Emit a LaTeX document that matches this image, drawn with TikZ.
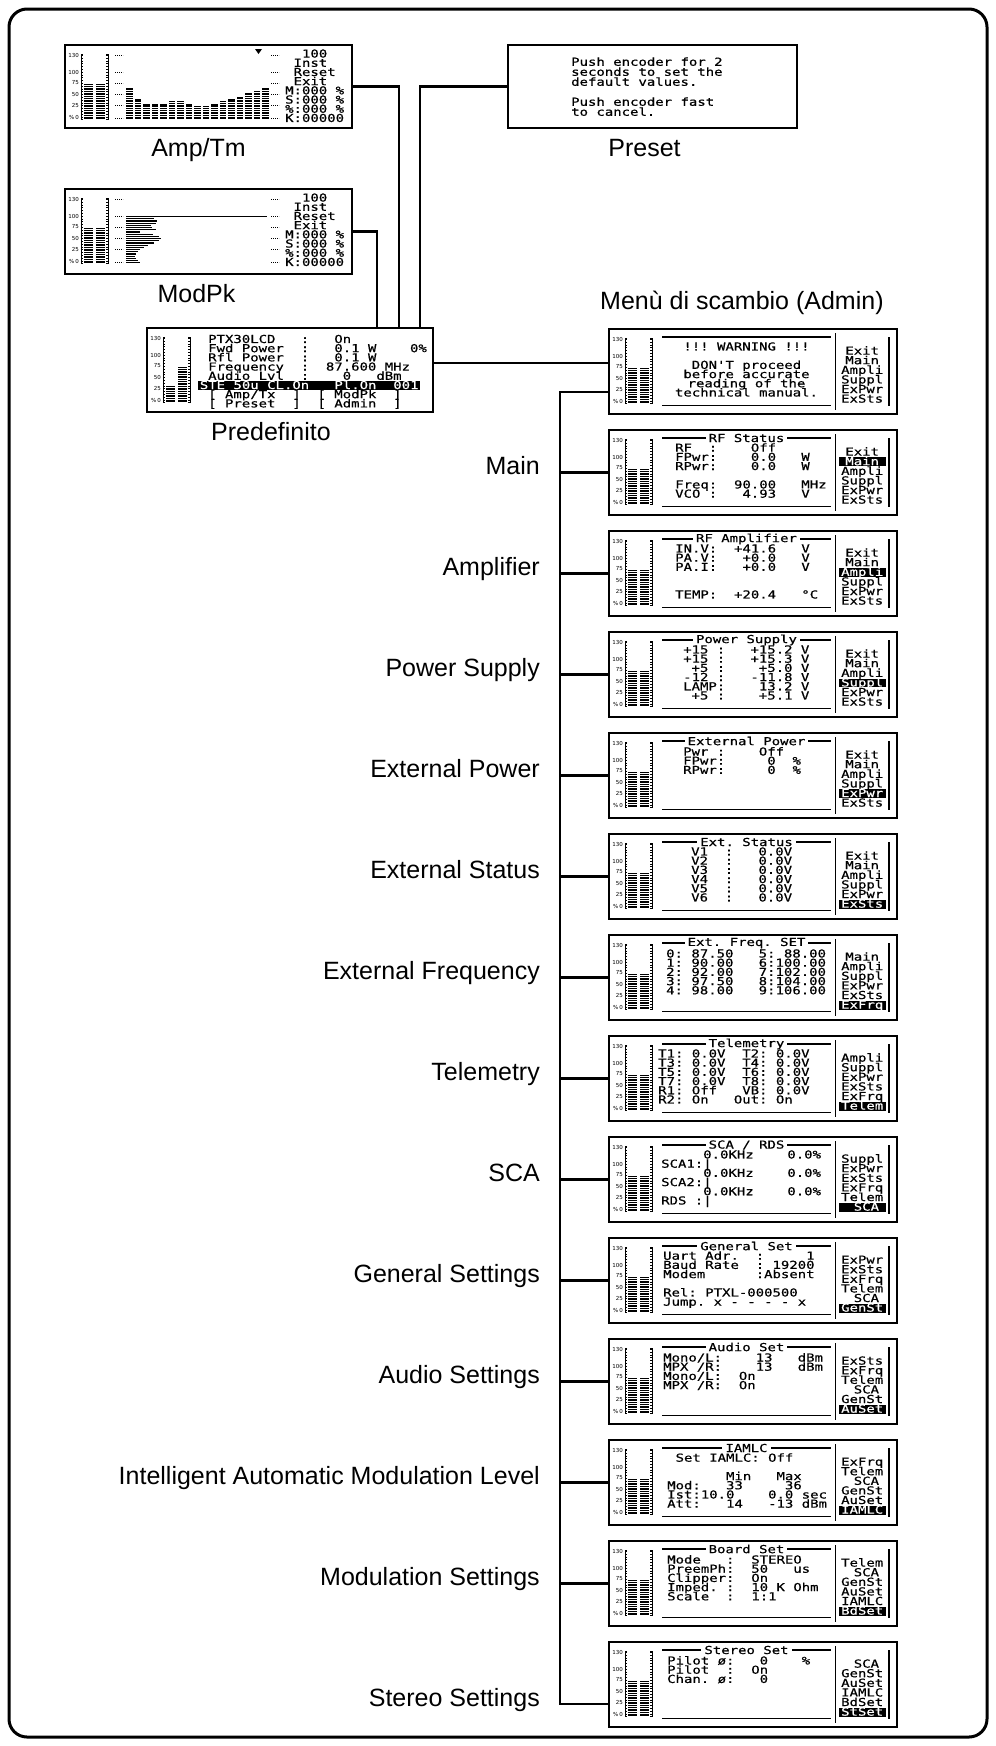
\documentclass[tikz,border=0pt]{standalone}
\usepackage{fontspec}
\setmainfont{Liberation Sans}
\newfontfamily\lcdfont{DejaVu Sans Mono}[FakeStretch=1.27,FakeBold=0.6,Ligatures=TeXOff]
\newfontfamily\meterfont{DejaVu Sans}
\usetikzlibrary{positioning, calc}
\newcommand\lcdsize{\lcdfont\fontsize{11}{9.2}\selectfont\lineskiplimit=-20pt\relax}
\newcommand\presetsize{\lcdfont\fontsize{11}{10}\selectfont\lineskiplimit=-20pt\relax}
\tikzset{
  screen/.style={draw, line width=2.6pt, inner sep=0pt, outer sep=0pt,
                 minimum width=288pt, minimum height=85pt, anchor=north west},
  caption/.style={font=\fontsize{25}{29}\selectfont, inner sep=0pt},
  link/.style={line width=2.2pt},
  lcd/.style={font=\lcdsize, inner sep=0pt, align=left, anchor=north west,
              execute at begin node={\rule{0pt}{8.4pt}}},
  menuitem/.style={font=\lcdsize, inner xsep=0pt, inner ysep=0.2pt, text height=7.6pt,
                   text depth=0.8pt, minimum width=47pt, anchor=base west},
  menuhi/.style={menuitem, fill=black, text=white},
  ttl/.style={font=\lcdsize, fill=white, inner xsep=3pt, inner ysep=0pt},
  lcdrule/.style={line width=1.2pt},
  menusep/.style={line width=1.8pt},
  meterbar/.style={line width=9pt, dash pattern=on 1.3pt off 1.1pt},
  gridmark/.style={line width=0.8pt, dash pattern=on 0.8pt off 1.2pt},
  scl/.style={font=\meterfont\fontsize{5.5}{5.5}\selectfont, inner sep=0pt, anchor=east}
}
% bar meter on the left of every screen
\newcommand\lcdmeter[3]{%
  \begin{scope}[shift={(#1.north west)}]
    \foreach \lv/\yy in {130/10,100/27,75/38,50/49,25/60}
      \node[scl] at (14,\yy) {\lv};
    \node[scl] at (14,72) {\%\,0};
    \draw[line width=1pt] (18,9)--(16,9)--(16,74)--(18,74)
                          (41,9)--(43,9)--(43,74)--(41,74);
    \draw[line width=1.4pt, dash pattern=on 0.6pt off 2.2pt] (17,10)--(17,73) (42,10)--(42,73);
    \draw[meterbar] (23,73.5)--(23,#2) (35.5,73.5)--(35.5,#3);
  \end{scope}}
% admin screen: name, top, title, body x, body, menu, highlighted item
\newcommand\adminscreen[7]{%
  \node[screen] (#1) at (609,#2) {};
  \lcdmeter{#1}{38}{38}
  \begin{scope}[shift={(#1.north west)}]
    \draw[lcdrule] (53,8)--(222,8) (53,76.5)--(222,76.5);
    \draw[menusep] (226.5,4)--(226.5,81) (280,8)--(280,77);
    \ifx\relax#3\relax\else\node[ttl] at (137.5,8) {#3};\fi
    \node[lcd] at (#4,13.1) {#5};
    \foreach \m [count=\i] in {#6}{
      \ifnum\i=#7 \node[menuhi] at (229.5,16+9.6*\i) {\m};
      \else \node[menuitem] at (229.5,16+9.6*\i) {\m};\fi}
  \end{scope}}

\begin{document}
\begin{tikzpicture}[x=1pt, y=-1pt]
  \useasboundingbox (0,0) rectangle (996,1746);
  \draw[line width=3pt, rounded corners=18pt] (9,9) rectangle (987,1737);

  % Amp/Tm
  \node[screen, minimum width=287pt, minimum height=83pt] (amp) at (65,45) {};
  \lcdmeter{amp}{38}{38}
  \begin{scope}[shift={(amp.north west)}]
    \foreach \yy in {10,27,38,49,60,73} \draw[gridmark] (50,\yy)--(58,\yy) (206,\yy)--(214,\yy);
    \foreach \h [count=\i] in {31,20,15,15,15,18,18,15,13,13,15,18,20,22,26,28,31}
      \draw[meterbar, line width=6.5pt] ({56+8.5*\i},73.5)--++(0,-\h);
    \fill (190,4)--(197,4)--(193.5,9)--cycle;
    \node[lcd] at (220,4.2) {~~100\\~Inst\\~Reset\\~Exit\\M:000~\%\\S:000~\%\\\%:000~\%\\K:00000};
  \end{scope}
  \node[caption, anchor=base] (amp-cap) at ($(amp.south)+(-10,28)$) {Amp/Tm};

  % ModPk
  \node[screen, minimum width=287pt] (modpk) at (65,189) {};
  \lcdmeter{modpk}{38}{38}
  \begin{scope}[shift={(modpk.north west)}]
    \foreach \yy in {10,27,38,49,60,73} \draw[gridmark] (50,\yy)--(58,\yy) (206,\yy)--(214,\yy);
    \draw[line width=1pt] (61,27)--(202,27);
    \foreach \len [count=\i] in {28,31,30,25,26,30,14,27,33,35,33,28,22,18,14,12,10,9,10,12,14}
      \draw[line width=1.2pt] (61,{27.5+2.2*\i})--++(\len,0);
    \node[lcd] at (220,4.2) {~~100\\~Inst\\~Reset\\~Exit\\M:000~\%\\S:000~\%\\\%:000~\%\\K:00000};
  \end{scope}
  \node[caption, anchor=base] (modpk-cap) at ($(modpk.south)+(-12,28)$) {ModPk};

  % Preset
  \node[screen, minimum width=289pt, minimum height=83pt] (preset) at (508,45) {};
  \node[lcd, font=\presetsize] (preset-txt) at ($(preset.north west)+(63,12.2)$)
    {Push~encoder~for~2\\seconds~to~set~the\\default~values.\\~\\Push~encoder~fast\\to~cancel.};
  \node[caption, anchor=base] (preset-cap) at ($(preset.south)+(-8,28)$) {Preset};

  % Predefinito
  \node[screen, minimum width=286pt, minimum height=84pt] (pre) at (147,328) {};
  \lcdmeter{pre}{57}{38}
  \begin{scope}[shift={(pre.north west)}]
    \node[lcd] at (61,6.6) {PTX30LCD~~~:~~~On\\Fwd~Power~~:~~~0.1~W~~~~0\%\\Rfl~Power~~:~~~0.1~W\\Frequency~~:~~87.600~MHz\\Audio~Lvl~~:~~~~0~~~dBm\\~\\{}[~Amp/Tx~~]~~[~ModPk~~]\\{}[~Preset~~]~~[~Admin~~]};
    \node[menuhi, minimum width=222pt] at (51,61) {STE~50u~CL.On~~~Pl.On~~001};
  \end{scope}
  \node[caption, anchor=base] (pre-cap) at ($(pre.south)+(-19,28)$) {Predefinito};

  \draw[link] (modpk.east) -| ([xshift=230pt]pre.north west);
  \draw[link] (amp.east) -| ([xshift=252pt]pre.north west);
  \draw[link] (preset.west) -| ([xshift=273pt]pre.north west);

  % Admin screens
  \adminscreen{warn}{329}{}{58}{}{Exit,Main,Ampli,Suppl,ExPwr,ExSts}{0}
  \node[lcd, align=center, anchor=north] (warn-txt) at ($(warn.north west)+(137.5,13.1)$)
    {!!!~WARNING~!!!\\~\\DON'T~proceed\\before~accurate\\reading~of~the\\technical~manual.};
  \node[caption, anchor=base west] (admin-cap) at ($(warn.north west)+(-9,-20)$) {Menù di scambio (Admin)};
  \coordinate (pre-out) at ([yshift=-35pt]pre.north east);
  \draw[link] (pre-out) -- (pre-out -| warn.west);

  \adminscreen{rfst}{430}{RF~Status}{66}{RF~~:~~~~Off\\FPwr:~~~~0.0~~~W\\RPwr:~~~~0.0~~~W\\~\\Freq:~~90.00~~~MHz\\VCO~:~~~4.93~~~V}{Exit,Main,Ampli,Suppl,ExPwr,ExSts}{2}
  \adminscreen{rfamp}{531}{RF~Amplifier}{66}{IN.V:~~+41.6~~~V\\PA.V:~~~+0.0~~~V\\PA.I:~~~+0.0~~~V\\~\\~\\TEMP:~~+20.4~~~°C}{Exit,Main,Ampli,Suppl,ExPwr,ExSts}{3}
  \adminscreen{psu}{632}{Power~Supply}{74}{+15~:~~~+15.2~V\\+15~:~~~+15.3~V\\~+5~:~~~~+5.0~V\\-12~:~~~-11.8~V\\LAMP:~~~~13.2~V\\~+5~:~~~~+5.1~V}{Exit,Main,Ampli,Suppl,ExPwr,ExSts}{4}
  \adminscreen{extpwr}{733}{External~Power}{74}{~\\Pwr~:~~~~Off\\FPwr:~~~~~0~~\%\\RPwr:~~~~~0~~\%}{Exit,Main,Ampli,Suppl,ExPwr,ExSts}{5}
  \adminscreen{extsts}{834}{Ext.~Status}{82}{V1~~:~~~0.0V\\V2~~:~~~0.0V\\V3~~:~~~0.0V\\V4~~:~~~0.0V\\V5~~:~~~0.0V\\V6~~:~~~0.0V}{Exit,Main,Ampli,Suppl,ExPwr,ExSts}{6}
  \adminscreen{extfrq}{935}{Ext.~Freq.~SET}{57}{~\\0:~87.50~~~5:~88.00\\1:~90.00~~~6:100.00\\2:~92.00~~~7:102.00\\3:~97.50~~~8:104.00\\4:~98.00~~~9:106.00}{Main,Ampli,Suppl,ExPwr,ExSts,ExFrq}{6}
  \adminscreen{telem}{1036}{Telemetry}{49}{T1:~0.0V~~T2:~0.0V\\T3:~0.0V~~T4:~0.0V\\T5:~0.0V~~T6:~0.0V\\T7:~0.0V~~T8:~0.0V\\R1:~Off~~~VB:~0.0V\\R2:~On~~~Out:~On}{Ampli,Suppl,ExPwr,ExSts,ExFrq,Telem}{6}
  \adminscreen{sca}{1137}{SCA~/~RDS}{52}{~~~~~0.0KHz~~~~0.0\%\\SCA1:|\\~~~~~0.0KHz~~~~0.0\%\\SCA2:|\\~~~~~0.0KHz~~~~0.0\%\\RDS~:|}{Suppl,ExPwr,ExSts,ExFrq,Telem,~SCA~}{6}
  \adminscreen{genset}{1238}{General~Set}{54}{Uart~Adr.~~:~~~~~1\\Baud~Rate~~:~19200\\Modem~~~~~~:Absent\\~\\Rel:~PTXL-000500\\Jump.~x~-~-~-~-~x}{ExPwr,ExSts,ExFrq,Telem,~SCA~,GenSt}{6}
  \adminscreen{auset}{1339}{Audio~Set}{54}{~\\Mono/L:~~~~13~~~dBm\\MPX~/R:~~~~13~~~dBm\\Mono/L:~~On\\MPX~/R:~~On}{ExSts,ExFrq,Telem,~SCA~,GenSt,AuSet}{6}
  \adminscreen{iamlc}{1440}{IAMLC}{58}{~Set~IAMLC:~Off\\~\\~~~~~~~Min~~~Max\\Mod:~~~33~~~~~36\\Ist:10.0~~~~0.0~sec\\Att:~~~14~~~-13~dBm}{ExFrq,Telem,~SCA~,GenSt,AuSet,IAMLC}{6}
  \adminscreen{bdset}{1541}{Board~Set}{58}{~\\Mode~~~:~~STEREO\\PreemPh:~~50~~~us\\Clipper:~~On\\Imped.~:~~10~K~Ohm\\Scale~~:~~1:1}{Telem,~SCA~,GenSt,AuSet,IAMLC,BdSet}{6}
  \adminscreen{stset}{1642}{Stereo~Set}{58}{~\\Pilot~ø:~~~0~~~~\%\\Pilot~~:~~On\\Chan.~ø:~~~0}{~SCA~,GenSt,AuSet,IAMLC,BdSet,StSet}{6}

  % tree of the admin menu
  \coordinate (tree-top) at (560,392);
  \coordinate (tree-bot) at (560,1704);
  \draw[link] (warn.west |- tree-top) -- (tree-top) -- (tree-bot) -- (tree-bot -| stset.west);
  \node[caption, anchor=base east] at ([xshift=-20pt, yshift=-2pt]tree-bot) {Stereo Settings};
  \foreach \scr/\lbl in {rfst/Main, rfamp/Amplifier, psu/Power Supply, extpwr/External Power,
      extsts/External Status, extfrq/External Frequency, telem/Telemetry, sca/SCA,
      genset/General Settings, auset/Audio Settings,
      iamlc/Intelligent Automatic Modulation Level, bdset/Modulation Settings}{
    \draw[link] (\scr.west) -- (\scr.west -| tree-top) coordinate (b-\scr);
    \node[caption, anchor=base east] at ([xshift=-20pt, yshift=-2pt]b-\scr) {\lbl};
  }
\end{tikzpicture}
\end{document}
